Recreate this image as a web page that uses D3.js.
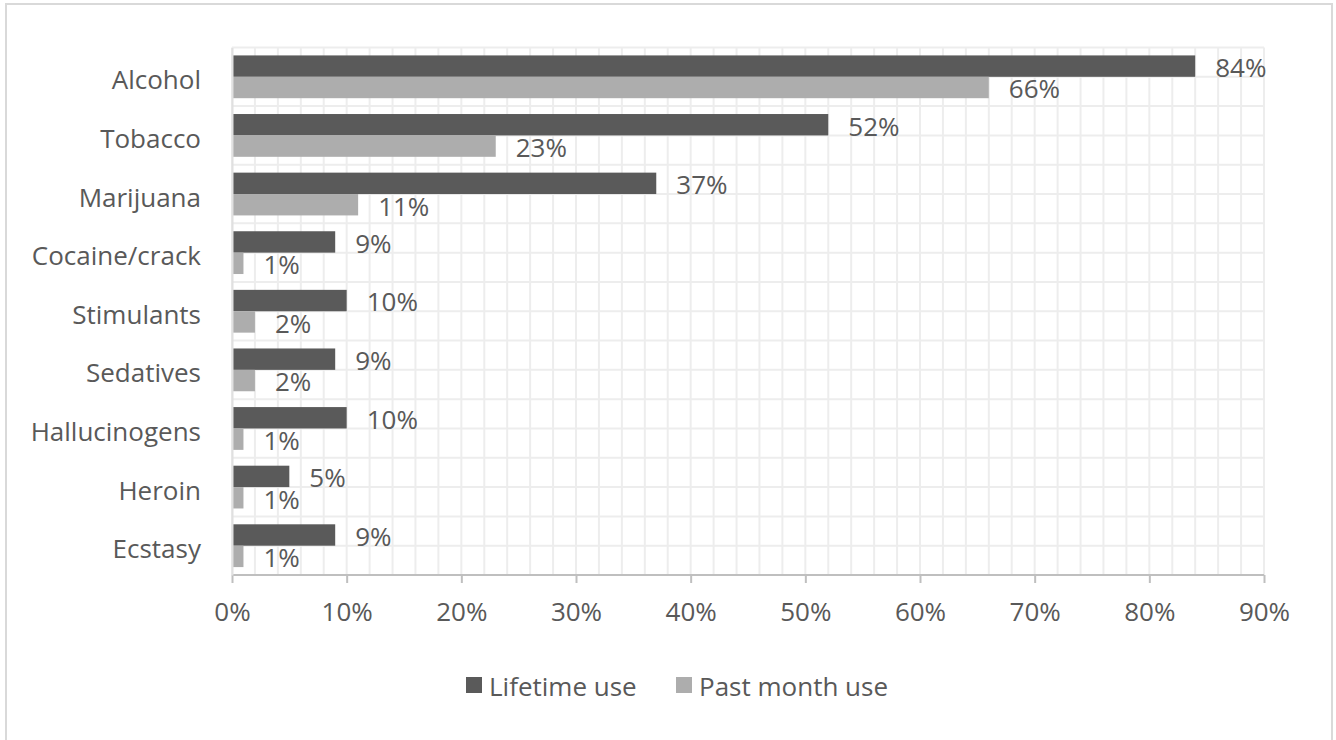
<!DOCTYPE html>
<html>
<head>
<meta charset="utf-8">
<script src="https://cdn.jsdelivr.net/npm/d3@7"></script>
<style>
  html, body { margin: 0; padding: 0; background: #fff; }
  svg { display: block; }
  text { font-family: "Open Sans", Lato, sans-serif; fill: #595959; }
</style>
</head>
<body>
<svg id="chart" width="1336" height="740"></svg>
<script>
const categories = ["Alcohol", "Tobacco", "Marijuana", "Cocaine/crack", "Stimulants", "Sedatives", "Hallucinogens", "Heroin", "Ecstasy"];
const lifetimeUse = [84, 52, 37, 9, 10, 9, 10, 5, 9];
const pastMonthUse = [66, 23, 11, 1, 2, 2, 1, 1, 1];
const seriesNames = ["Lifetime use", "Past month use"];
const seriesColors = ["#5a5a5a", "#adadad"];
const xTickValues = [0, 10, 20, 30, 40, 50, 60, 70, 80, 90];

(function () {
const svg = d3.select("#chart");
const FONT = "'Open Sans', Lato, sans-serif";
const FS = 26;

// outer border
svg.append("rect").attr("x", 6).attr("y", 4).attr("width", 1326).attr("height", 760)
  .attr("fill", "#fff").attr("stroke", "#d9d9d9").attr("stroke-width", 2);

const pLeft = 232, pRight = 1264, pTop = 47.5, pBottom = 575;
const x = d3.scaleLinear().domain([0, 90]).range([pLeft, pRight]);
const y = d3.scaleBand().domain(categories).range([pTop, pBottom]).paddingInner(0.27).paddingOuter(0.135);
const yFull = d3.scaleBand().domain(categories).range([pTop, pBottom]);
const sub = d3.scaleBand().domain(seriesNames).range([0, y.bandwidth()]);

const g = svg.append("g");

// vertical gridlines every 2%
g.append("g").selectAll("line").data(d3.range(0, 91, 2)).join("line")
  .attr("x1", d => x(d)).attr("x2", d => x(d))
  .attr("y1", pTop).attr("y2", pBottom)
  .attr("stroke", "#ededed").attr("stroke-width", 2);

// horizontal gridlines every half band
const halfLines = d3.range(0, categories.length * 2 + 1).map(i => pTop + i * yFull.bandwidth() / 2);
g.append("g").selectAll("line").data(halfLines).join("line")
  .attr("x1", pLeft).attr("x2", pRight)
  .attr("y1", d => d).attr("y2", d => d)
  .attr("stroke", "#ededed").attr("stroke-width", 2);

const series = [lifetimeUse, pastMonthUse];
series.forEach((vals, si) => {
  const name = seriesNames[si];
  g.append("g").selectAll("rect").data(categories).join("rect")
    .attr("x", x(0))
    .attr("y", (c) => y(c) + sub(name))
    .attr("width", (c, i) => x(vals[i]) - x(0))
    .attr("height", sub.bandwidth())
    .attr("fill", seriesColors[si]);
  g.append("g").selectAll("text").data(categories).join("text")
    .attr("x", (c, i) => x(vals[i]) + 20)
    .attr("y", (c) => y(c) + sub(name) + sub.bandwidth() / 2 + 1)
    .attr("dy", "0.38em")
    .attr("font-size", FS)
    .text((c, i) => vals[i] + "%");
});

// x axis
const xAxis = d3.axisBottom(x).tickValues(xTickValues).tickSize(8).tickPadding(20).tickFormat(d => d + "%");
const ax = svg.append("g").attr("transform", `translate(0,${pBottom})`).call(xAxis);
ax.select(".domain").attr("stroke", "#bfbfbf").attr("stroke-width", 2).attr("d", `M${pLeft},0H${pRight}`);
ax.selectAll(".tick line").attr("stroke", "#bfbfbf").attr("stroke-width", 2);
ax.selectAll(".tick text").attr("font-size", FS).attr("fill", "#595959").style("font-family", FONT);

// y axis labels
const yAxis = d3.axisLeft(yFull).tickSize(0).tickPadding(31);
const ay = svg.append("g").attr("transform", `translate(${pLeft},0)`).call(yAxis);
ay.select(".domain").attr("stroke", "#e0e0e0").attr("stroke-width", 2);
ay.selectAll(".tick text").attr("font-size", FS).attr("fill", "#595959").attr("dy", "0.48em").style("font-family", FONT);

// legend
const legend = svg.append("g");
const legendItems = [{name: seriesNames[0], color: seriesColors[0], x: 466}, {name: seriesNames[1], color: seriesColors[1], x: 676}];
legendItems.forEach(it => {
  legend.append("rect").attr("x", it.x).attr("y", 677).attr("width", 16).attr("height", 16).attr("fill", it.color);
  legend.append("text").attr("x", it.x + 23).attr("y", 687).attr("dy", "0.36em").attr("font-size", FS).text(it.name);
});
})();
</script>
</body>
</html>
